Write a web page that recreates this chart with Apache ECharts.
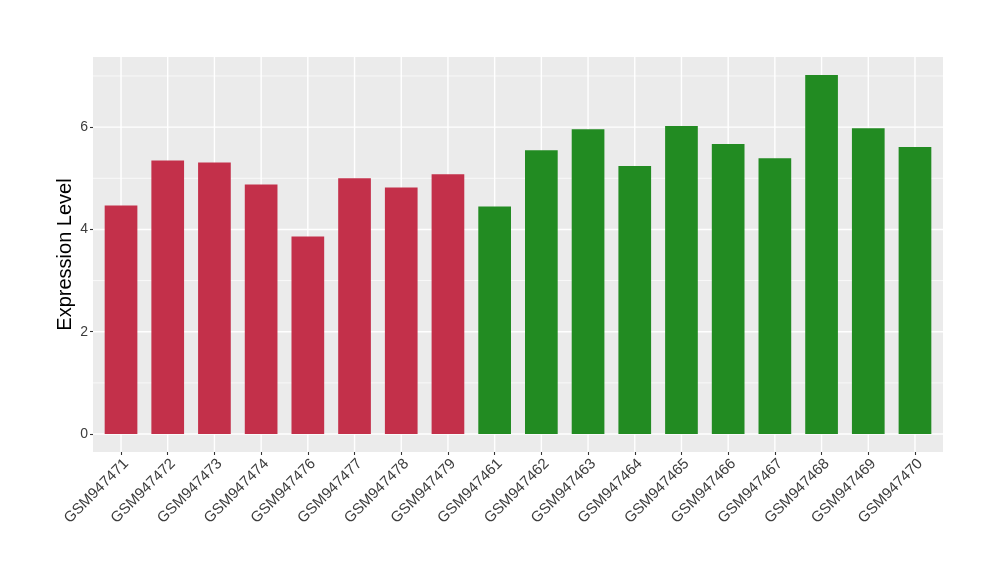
<!DOCTYPE html>
<html><head><meta charset="utf-8">
<script src="https://cdn.jsdelivr.net/npm/echarts@6/dist/echarts.min.js"></script>
<style>html,body{margin:0;padding:0;background:#fff}#c{width:1000px;height:580px}</style>
</head><body><div id="c"></div>
<script>
const categories = ['GSM947471','GSM947472','GSM947473','GSM947474','GSM947476','GSM947477','GSM947478','GSM947479',
  'GSM947461','GSM947462','GSM947463','GSM947464','GSM947465','GSM947466','GSM947467','GSM947468','GSM947469','GSM947470'];
const values = [4.47, 5.35, 5.31, 4.88, 3.86, 5.00, 4.82, 5.08,
  4.45, 5.55, 5.96, 5.24, 6.02, 5.67, 5.39, 7.02, 5.98, 5.61];
const groups = ['A','A','A','A','A','A','A','A','B','B','B','B','B','B','B','B','B','B'];
const groupColors = { A: '#C3304A', B: '#228B22' };
const yTickValues = [0, 2, 4, 6];
const yMinorValues = [1, 3, 5, 7];

const dataMax = Math.max(...values);
const yMin = -0.05 * dataMax, yMax = dataMax * 1.05;
const xMin = -0.6, xMax = categories.length - 1 + 0.6;
const catIdx = categories.map((_, i) => i);
const FONT = 'Liberation Sans, Arial, sans-serif';

const chart = echarts.init(document.getElementById('c'));

function hLines(params, api) {
  const cs = params.coordSys;
  const v = api.value(0), major = api.value(1);
  const y = api.coord([0, v])[1];
  return { type: 'line', shape: { x1: cs.x, y1: y, x2: cs.x + cs.width, y2: y },
    style: { stroke: '#FFFFFF', lineWidth: major ? 1.4 : 0.7 }, silent: true };
}
function vLines(params, api) {
  const cs = params.coordSys;
  const x = api.coord([api.value(0), 0])[0];
  return { type: 'line', shape: { x1: x, y1: cs.y, x2: x, y2: cs.y + cs.height },
    style: { stroke: '#FFFFFF', lineWidth: 1.4 }, silent: true };
}

chart.setOption({
  animation: false,
  backgroundColor: '#FFFFFF',
  textStyle: { fontFamily: FONT },
  grid: { left: 93, right: 57, top: 57, bottom: 128, show: true, backgroundColor: '#EBEBEB', borderWidth: 0 },
  xAxis: {
    type: 'value', min: xMin, max: xMax, position: 'bottom',
    axisLine: { show: false, onZero: false },
    splitLine: { show: false },
    axisTick: { show: true, inside: false, customValues: catIdx, length: 3, lineStyle: { color: '#333333', width: 1.1 } },
    axisLabel: { customValues: catIdx, formatter: v => categories[Math.round(v)], rotate: 45,
      verticalAlign: 'top', color: '#3C3C3C', fontSize: 15, margin: 4, fontFamily: FONT }
  },
  yAxis: {
    type: 'value', min: yMin, max: yMax, position: 'left',
    name: 'Expression Level', nameLocation: 'middle', nameGap: 18, nameMoveOverlap: false,
    nameTextStyle: { fontSize: 20, color: '#000000', fontFamily: FONT },
    axisLine: { show: false, onZero: false },
    splitLine: { show: false },
    axisTick: { show: true, inside: false, customValues: yTickValues, length: 3, lineStyle: { color: '#333333', width: 1.1 } },
    axisLabel: { customValues: yTickValues, color: '#3C3C3C', fontSize: 14, margin: 5, fontFamily: FONT }
  },
  series: [
    { type: 'custom', z: 1, silent: true, renderItem: hLines, clip: true,
      data: yMinorValues.map(v => [v, 0]).concat(yTickValues.map(v => [v, 1])) },
    { type: 'custom', z: 1, silent: true, renderItem: vLines, clip: true,
      data: catIdx.map(i => [i]) },
    { type: 'bar', z: 2, barWidth: '70%',
      data: values.map((v, i) => ({ value: [i, v], itemStyle: { color: groupColors[groups[i]] } })) }
  ]
});
</script></body></html>
